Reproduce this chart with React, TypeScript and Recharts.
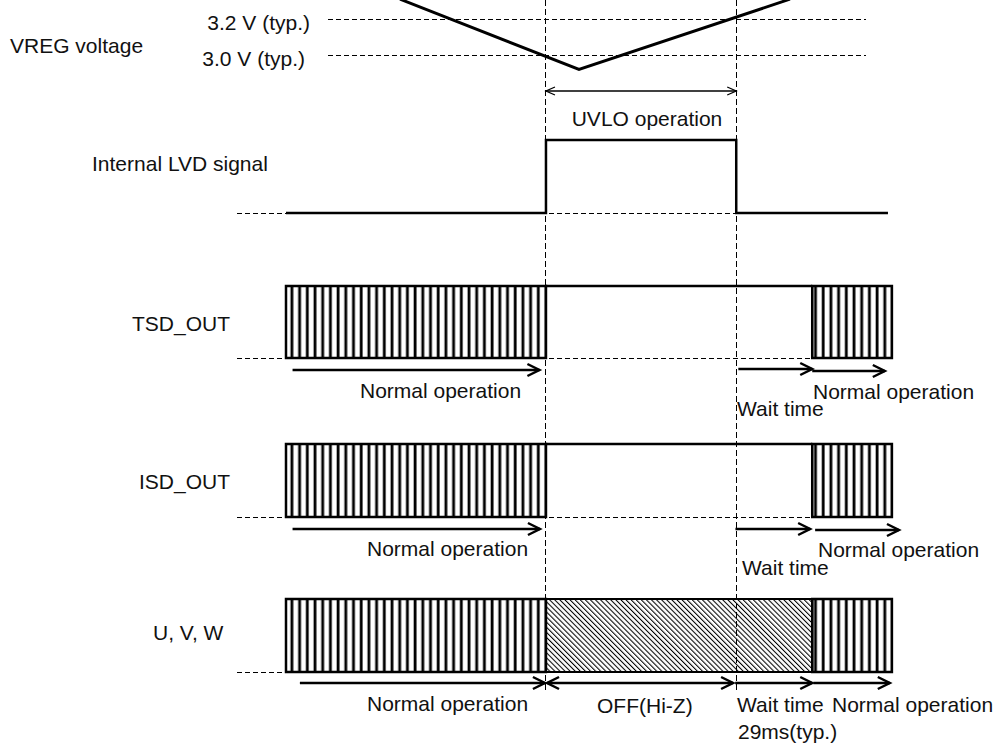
import React from 'react';
import {
  ComposedChart,
  Line,
  XAxis,
  YAxis,
  ReferenceLine,
  ReferenceArea,
  ReferenceDot,
} from 'recharts';

const W = 1004;
const H = 752;

// time axis in ms: the 29 ms wait spans 76 px, waveforms start at x=286
const PX_PER_MS = 76 / 29;
const ORIGIN_PX = 286;
const TIME_DOMAIN: [number, number] = [-ORIGIN_PX / PX_PER_MS, (W - ORIGIN_PX) / PX_PER_MS];
// layout helper: horizontal pixel position -> time axis value
const at = (px: number) => (px - ORIGIN_PX) / PX_PER_MS;

// event times (ms)
const T_START = 0;
const T_UVLO_ON = 99.2;
const T_UVLO_OFF = 171.8;
const WAIT_MS = 29;
const T_RESUME = T_UVLO_OFF + WAIT_MS;
const T_END = 231.2;
const T_LVD_END = 229.7;

// VREG voltage
const vregTimes = [43.5, 111.8, 192.3];
const vregVolts = [3.31, 2.92, 3.31];
const thresholdVolts = [3.2, 3.0];
const thresholdLabels = ['3.2 V (typ.)', '3.0 V (typ.)'];

// internal LVD signal
const lvdTimes = [T_START, T_UVLO_ON, T_UVLO_ON, T_UVLO_OFF, T_UVLO_OFF, T_LVD_END];
const lvdLevels = [0, 0, 1, 1, 0, 0];

// outputs: pwm = switching, high = held high, hiz = OFF(Hi-Z)
const outputIds = ['tsd', 'isd', 'uvw'];
const outputNames = ['TSD_OUT', 'ISD_OUT', 'U, V, W'];
const phaseStarts = [T_START, T_UVLO_ON, T_RESUME];
const phaseEnds = [T_UVLO_ON, T_RESUME, T_END];
const outputStates = [
  ['pwm', 'high', 'pwm'],
  ['pwm', 'high', 'pwm'],
  ['pwm', 'hiz', 'pwm'],
];

// ---- layout (pixels) ----
const ROWS: Record<string, { low: number; high: number }> = {
  lvd: { low: 213, high: 140 },
  tsd: { low: 358, high: 286 },
  isd: { low: 517, high: 444 },
  uvw: { low: 672, high: 599 },
};
const levelDomain = (id: string): [number, number] => {
  const { low, high } = ROWS[id];
  const h = low - high;
  return [(low - H) / h, low / h];
};
// 3.2 V sits at y=19, 180 px per volt
const VREG_DOMAIN: [number, number] = [3.2 - (H - 19) / 180, 3.2 + 19 / 180];

const FONT = '"Liberation Sans", Arial, sans-serif';
const DASH_LEFT = at(237);

const textLayout = [
  { text: 'VREG voltage', x: 10, y: 45, anchor: 'start' },
  { text: 'UVLO operation', x: 647, y: 118, anchor: 'middle' },
  { text: 'Internal LVD signal', x: 92, y: 163, anchor: 'start' },
  { text: outputNames[0], x: 132, y: 323, anchor: 'start' },
  { text: 'Normal operation', x: 360, y: 390, anchor: 'start' },
  { text: 'Normal operation', x: 813, y: 391, anchor: 'start' },
  { text: 'Wait time', x: 737, y: 408, anchor: 'start' },
  { text: outputNames[1], x: 139, y: 481, anchor: 'start' },
  { text: 'Normal operation', x: 367, y: 548, anchor: 'start' },
  { text: 'Normal operation', x: 818, y: 549, anchor: 'start' },
  { text: 'Wait time', x: 742, y: 567, anchor: 'start' },
  { text: outputNames[2], x: 153, y: 632, anchor: 'start' },
  { text: 'Normal operation', x: 367, y: 703, anchor: 'start' },
  { text: 'OFF(Hi-Z)', x: 597, y: 705, anchor: 'start' },
  { text: 'Wait time', x: 737, y: 704, anchor: 'start' },
  { text: 'Normal operation', x: 832, y: 704, anchor: 'start' },
  { text: '29ms(typ.)', x: 738, y: 731, anchor: 'start' },
];

const arrowLayout = [
  { from: T_UVLO_ON, to: T_UVLO_OFF, y: 91, both: true, thin: true },
  { from: T_START + 2.5, to: T_UVLO_ON - 2.5, y: 370 },
  { from: T_UVLO_OFF + 0.8, to: T_RESUME, y: 369 },
  { from: T_RESUME, to: T_END - 2.7, y: 371 },
  { from: T_START + 2.5, to: T_UVLO_ON - 2.3, y: 529 },
  { from: T_UVLO_OFF - 0.3, to: T_RESUME - 0.8, y: 529 },
  { from: T_RESUME + 1.1, to: T_END + 2.7, y: 530 },
  { from: T_START + 5.3, to: T_UVLO_ON - 0.4, y: 683 },
  { from: T_UVLO_ON + 0.4, to: T_UVLO_OFF - 1.2, y: 683, both: true },
  { from: T_UVLO_OFF - 0.4, to: T_RESUME, y: 683 },
  { from: T_RESUME + 0.4, to: T_END - 0.8, y: 683 },
];

const textShape = (label: string, anchor: string, dy = 0) => (p: any) => (
  <text
    x={p.cx}
    y={p.cy + dy}
    textAnchor={anchor}
    dominantBaseline="central"
    fontFamily={FONT}
    fontSize={21}
    fill="#111"
  >
    {label}
  </text>
);

const arrowShape = (both: boolean, thin: boolean) => (p: any) => {
  const { x1, y1, x2, y2 } = p;
  const len = thin ? 9 : 12;
  const half = thin ? 4 : 6;
  const sw = thin ? 1.3 : 2.5;
  const dir = Math.sign(x2 - x1) || 1;
  const head = (x: number, y: number, d: number) =>
    `M${x - d * len},${y - half} L${x},${y} L${x - d * len},${y + half}`;
  return (
    <g stroke="#000" strokeWidth={sw} fill="none">
      <line x1={x1} y1={y1} x2={x2} y2={y2} />
      <path d={head(x2, y2, dir)} />
      {both && <path d={head(x1, y1, -dir)} />}
    </g>
  );
};

const dashed = {
  stroke: '#000',
  strokeWidth: 1,
  strokeDasharray: '5 3',
  shapeRendering: 'crispEdges',
} as const;

export default function App() {
  const vregData = vregTimes.map((t, i) => ({ t, v: vregVolts[i] }));
  const lvdData = lvdTimes.map((t, i) => ({ t, level: lvdLevels[i] }));

  return (
    <div style={{ position: 'absolute', left: 0, top: 0, width: W, height: H, background: '#fff' }}>
      <ComposedChart width={W} height={H} margin={{ top: 0, right: 0, bottom: 0, left: 0 }}>
        <defs>
          <pattern id="pwm" patternUnits="userSpaceOnUse" x={ORIGIN_PX} y={0} width={7.7} height={10}>
            <rect x={4.5} y={0} width={2.8} height={10} fill="#000" />
          </pattern>
          <pattern id="hiz" patternUnits="userSpaceOnUse" width={3.6} height={3.6} patternTransform="rotate(-45)">
            <line x1={0.5} y1={0} x2={0.5} y2={3.6} stroke="#000" strokeWidth={1.1} />
          </pattern>
        </defs>

        <XAxis xAxisId="time" dataKey="t" type="number" domain={TIME_DOMAIN} allowDataOverflow hide />
        <YAxis yAxisId="px" type="number" domain={[0, H]} reversed allowDataOverflow hide />
        <YAxis yAxisId="vreg" type="number" domain={VREG_DOMAIN} allowDataOverflow hide />
        {Object.keys(ROWS).map((id) => (
          <YAxis key={id} yAxisId={id} type="number" domain={levelDomain(id)} allowDataOverflow hide />
        ))}

        {/* VREG thresholds */}
        {thresholdVolts.map((v) => (
          <ReferenceLine
            key={`th-${v}`}
            xAxisId="time"
            yAxisId="vreg"
            segment={[{ x: at(328), y: v }, { x: at(866), y: v }]}
            {...dashed}
          />
        ))}

        {/* dashed baselines */}
        <ReferenceLine
          xAxisId="time"
          yAxisId="lvd"
          segment={[{ x: DASH_LEFT, y: 0 }, { x: T_UVLO_OFF, y: 0 }]}
          {...dashed}
        />
        {outputIds.map((id, r) => (
          <ReferenceLine
            key={`base-${id}`}
            xAxisId="time"
            yAxisId={id}
            segment={[
              { x: DASH_LEFT, y: 0 },
              { x: outputStates[r][1] === 'high' ? T_RESUME : T_START, y: 0 },
            ]}
            {...dashed}
          />
        ))}

        {/* output phases */}
        {outputIds.map((id, r) =>
          outputStates[r].map((state, k) =>
            state === 'high' ? null : (
              <ReferenceArea
                key={`${id}-${k}`}
                xAxisId="time"
                yAxisId={id}
                x1={phaseStarts[k]}
                x2={phaseEnds[k]}
                y1={0}
                y2={1}
                fill={state === 'pwm' ? 'url(#pwm)' : 'url(#hiz)'}
                fillOpacity={1}
                stroke="#000"
                strokeWidth={state === 'pwm' ? 2.5 : 2}
              />
            ),
          ),
        )}

        {/* UVLO boundaries */}
        {[T_UVLO_ON, T_UVLO_OFF].map((t) => (
          <ReferenceLine
            key={`v-${t}`}
            xAxisId="time"
            yAxisId="px"
            segment={[{ x: t, y: 0 }, { x: t, y: 690 }]}
            {...dashed}
            strokeDasharray="6 3"
          />
        ))}

        <Line
          xAxisId="time"
          yAxisId="vreg"
          data={vregData}
          dataKey="v"
          type="linear"
          stroke="#000"
          strokeWidth={3}
          dot={false}
          isAnimationActive={false}
        />
        <Line
          xAxisId="time"
          yAxisId="lvd"
          data={lvdData}
          dataKey="level"
          type="linear"
          stroke="#000"
          strokeWidth={2.5}
          dot={false}
          isAnimationActive={false}
        />
        {outputIds.map((id, r) =>
          outputStates[r].map((state, k) =>
            state !== 'high' ? null : (
              <Line
                key={`hi-${id}-${k}`}
                xAxisId="time"
                yAxisId={id}
                data={[
                  { t: phaseStarts[k], level: 1 },
                  { t: phaseEnds[k], level: 1 },
                ]}
                dataKey="level"
                type="linear"
                stroke="#000"
                strokeWidth={2.5}
                dot={false}
                isAnimationActive={false}
              />
            ),
          ),
        )}

        {arrowLayout.map((a, i) => (
          <ReferenceLine
            key={`arrow-${i}`}
            xAxisId="time"
            yAxisId="px"
            segment={[{ x: a.from, y: a.y }, { x: a.to, y: a.y }]}
            shape={arrowShape(!!a.both, !!a.thin)}
          />
        ))}

        {thresholdVolts.map((v, i) => (
          <ReferenceDot
            key={`thl-${v}`}
            xAxisId="time"
            yAxisId="vreg"
            x={at(i === 0 ? 310 : 305)}
            y={v}
            r={1}
            shape={textShape(thresholdLabels[i], 'end', 3)}
          />
        ))}
        {textLayout.map((l, i) => (
          <ReferenceDot
            key={`txt-${i}`}
            xAxisId="time"
            yAxisId="px"
            x={at(l.x)}
            y={l.y}
            r={1}
            shape={textShape(l.text, l.anchor)}
          />
        ))}
      </ComposedChart>
    </div>
  );
}
